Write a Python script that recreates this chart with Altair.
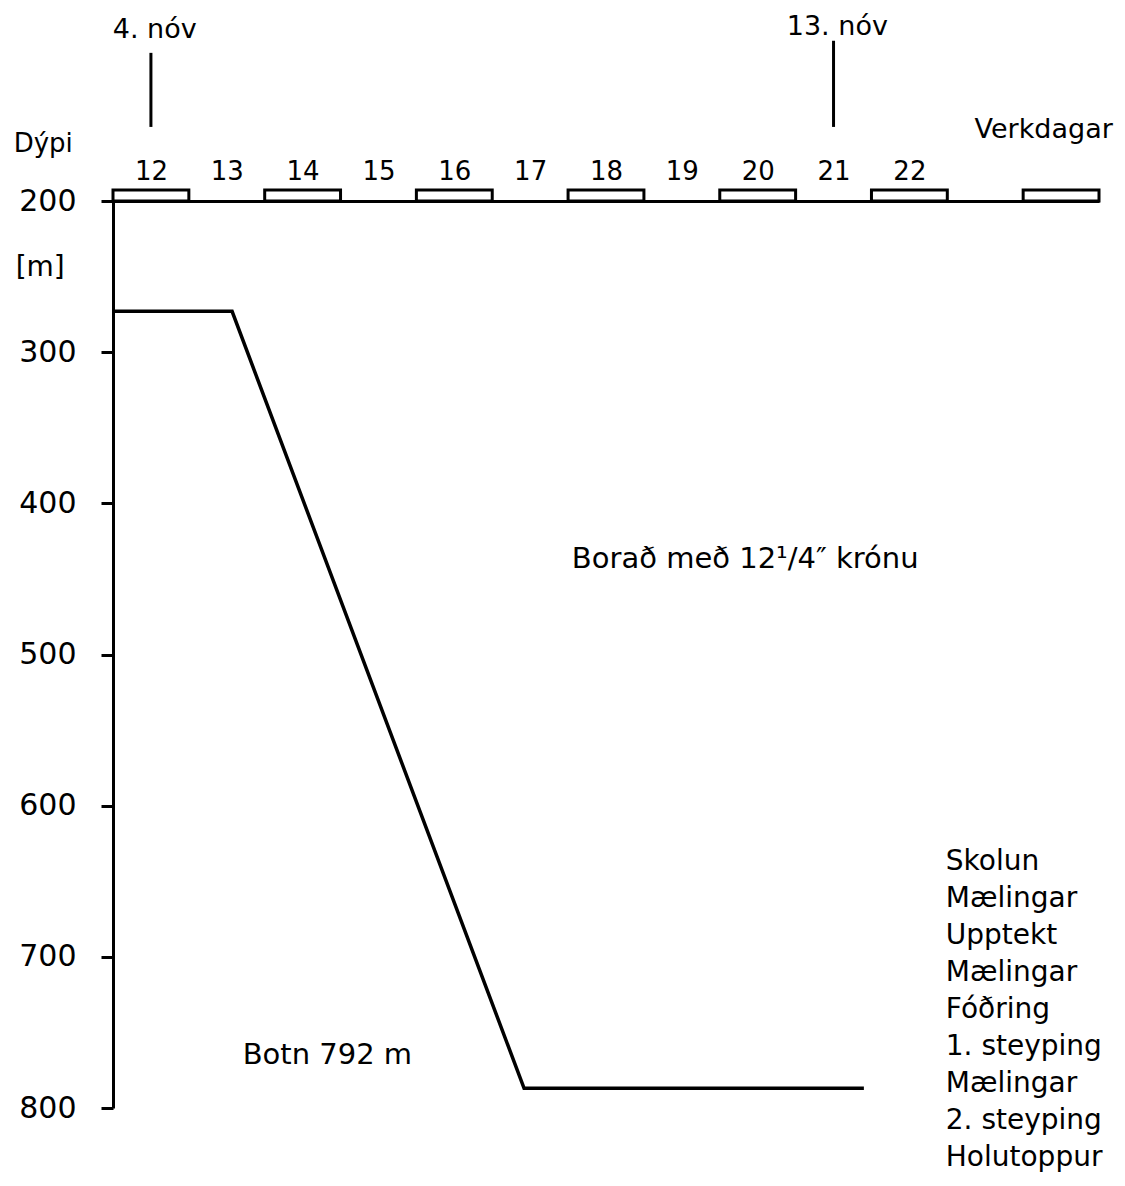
import altair as alt
import pandas as pd

# ---- data ----
day_labels = list(range(12, 23))                 # working-day numbers along the top
box_days = [12, 14, 16, 18, 20, 22, 24]          # days marked with an open box
profile_day = [12.0, 13.57, 17.42, 21.9]         # drilling progress (working days)
profile_depth = [273, 273, 787, 787]             # depth [m]
depth_ticks = [200, 300, 400, 500, 600, 700, 800]
marker_text = ["4. nóv", "13. nóv"]
marker_day = [12.5, 21.5]
steps = ["Skolun", "Mælingar", "Upptekt", "Mælingar", "Fóðring",
         "1. steyping", "Mælingar", "2. steyping", "Holutoppur"]

FONT = "DejaVu Sans"
X = alt.Scale(domain=[12, 25], nice=False, zero=False)
Y = alt.Scale(domain=[200, 800], reverse=True, nice=False, zero=False)

AX = alt.Axis(orient="top", values=[d + 0.5 for d in day_labels],
              labelExpr="floor(datum.value)", ticks=False, grid=False,
              domainColor="black", domainWidth=3, labelFont=FONT,
              labelFontSize=26, labelColor="black", labelPadding=17,
              labelFlush=False, title=None)
AY = alt.Axis(values=depth_ticks, grid=False, domainColor="black",
              domainWidth=3, tickColor="black", tickWidth=3,
              tickSize=12, labelFont=FONT, labelFontSize=30,
              labelColor="black", labelPadding=25, title=None)

profile_df = pd.DataFrame({"day": profile_day, "depth": profile_depth})
box_df = pd.DataFrame({"day": box_days})
marker_df = pd.DataFrame({"day": marker_day, "label": marker_text})

profile = alt.Chart(profile_df).mark_line(color="black", strokeWidth=3.5).encode(
    x=alt.X("day:Q", scale=X, axis=AX),
    y=alt.Y("depth:Q", scale=Y, axis=AY),
    order=alt.Order("day:Q"),
)

boxes = alt.Chart(box_df).transform_calculate(
    day_end="datum.day + 1"
).mark_rect(fill="white", stroke="black", strokeWidth=3).encode(
    x=alt.X("day:Q", scale=X, axis=AX),
    x2="day_end:Q",
    y=alt.datum(200, scale=Y, axis=AY),
    y2=alt.value(-11),
)

marker_lines = alt.Chart(marker_df).transform_calculate(
    top="datum.day < 15 ? 102 : 94", bottom="151"
).mark_rule(color="black", strokeWidth=3).encode(
    x=alt.X("day:Q", scale=X, axis=AX),
    y=alt.Y("top:Q", scale=Y, axis=AY),
    y2="bottom:Q",
)

marker_labels = alt.Chart(marker_df).transform_calculate(
    ty="datum.day < 15 ? 87 : 85", tx="datum.day + 0.05"
).mark_text(font=FONT, fontSize=27, color="black", align="center",
            baseline="middle").encode(
    x=alt.X("tx:Q", scale=X, axis=AX),
    y=alt.Y("ty:Q", scale=Y, axis=AY),
    text="label:N",
)


def note(text, day, depth, size=26, align="left"):
    return alt.Chart(pd.DataFrame({"d": [day], "z": [depth]})).mark_text(
        font=FONT, fontSize=size, color="black", align=align, baseline="middle"
    ).encode(
        x=alt.X("d:Q", scale=X, axis=AX),
        y=alt.Y("z:Q", scale=Y, axis=AY),
        text=alt.value(text),
    )


steps_text = alt.Chart(pd.DataFrame({"d": [22.98], "z": [628]})).mark_text(
    font=FONT, fontSize=28, color="black", align="left", baseline="top",
    lineHeight=37,
).encode(
    x=alt.X("d:Q", scale=X, axis=AX),
    y=alt.Y("z:Q", scale=Y, axis=AY),
    text=alt.value(steps),
)

chart = alt.layer(
    profile, boxes, marker_lines, marker_labels,
    note("Dýpi", 11.08, 162, size=26, align="center"),
    note("[m]", 11.04, 244, size=28, align="center"),
    note("Verkdagar", 23.36, 153, size=27),
    note("Borað með 12¹/4″ krónu", 18.05, 437, size=29),
    note("Botn 792 m", 13.71, 765, size=29),
    steps_text,
).properties(
    width=986, height=907,
    padding={"left": 105, "top": 193, "right": 18, "bottom": 70},
    autosize=alt.AutoSizeParams(type="none"),
    background="white",
).configure_view(stroke=None)

chart.save("out.html", embed_options={"renderer": "svg", "actions": False})
